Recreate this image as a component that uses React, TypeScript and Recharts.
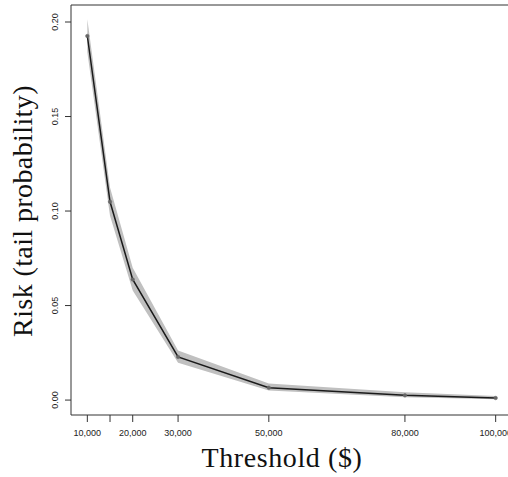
import React from "react";
import { ComposedChart, Area, Line, XAxis, YAxis, ReferenceLine, Label } from "recharts";

const thresholds = [10000, 15000, 20000, 30000, 50000, 80000, 100000];
const risk = [0.1926, 0.1049, 0.0638, 0.0228, 0.0065, 0.0025, 0.0011];
const lower = [0.1840, 0.0975, 0.0580, 0.0198, 0.0050, 0.0015, 0.0004];
const upper = [0.2015, 0.1125, 0.0700, 0.0262, 0.0088, 0.0042, 0.0022];

const xTicks = [10000, 15000, 20000, 30000, 50000, 80000, 100000];
const xTickLabels = ["10,000", "", "20,000", "30,000", "50,000", "80,000", "100,000"];
const yTicks = [0, 0.05, 0.1, 0.15, 0.2];
const yTickLabels = ["0.00", "0.05", "0.10", "0.15", "0.20"];

const data = thresholds.map((t, i) => ({
  t,
  risk: risk[i],
  band: [lower[i], upper[i]],
}));

const tickFont = "'Liberation Sans', Arial, sans-serif";
const titleFont = "'Liberation Serif', 'Times New Roman', serif";

const XTick = (props: any) => {
  const { x, y, payload } = props;
  const idx = xTicks.indexOf(payload.value);
  return (
    <text x={x} y={y} dy={11.5} textAnchor="middle" fontSize={9} fill="#222" fontFamily={tickFont}>
      {xTickLabels[idx]}
    </text>
  );
};

const YTick = (props: any) => {
  const { x, y, payload } = props;
  const idx = yTicks.indexOf(payload.value);
  return (
    <text x={x} y={y} textAnchor="middle" fontSize={9} fill="#222" fontFamily={tickFont} transform={`rotate(-90, ${x}, ${y})`}>
      {yTickLabels[idx]}
    </text>
  );
};

export default function App() {
  return (
    <div style={{ position: "absolute", left: 0, top: 0, width: 508, height: 477, overflow: "hidden", background: "#fff" }}>
      <ComposedChart width={520} height={477} data={data} margin={{ top: 5, right: 8, bottom: 0, left: 0 }}>
        <XAxis
          dataKey="t"
          type="number"
          domain={[6400, 103600]}
          ticks={xTicks}
          interval={0}
          allowDataOverflow
          height={62}
          tickSize={7}
          tickMargin={2}
          tick={<XTick />}
          axisLine={{ stroke: "#333", strokeWidth: 1 }}
          tickLine={{ stroke: "#333", strokeWidth: 1 }}
        >
          <Label
            content={() => (
              <text x={282} y={467} textAnchor="middle" fontSize={28} letterSpacing={0.6} fill="#111" fontFamily={titleFont}>
                Threshold ($)
              </text>
            )}
          />
        </XAxis>
        <YAxis
          type="number"
          domain={[-0.0079, 0.209]}
          ticks={yTicks}
          interval={0}
          allowDataOverflow
          width={71}
          tickSize={6}
          tickMargin={7}
          tick={<YTick />}
          axisLine={{ stroke: "#333", strokeWidth: 1 }}
          tickLine={{ stroke: "#333", strokeWidth: 1 }}
        >
          <Label
            content={() => (
              <text x={32} y={211} textAnchor="middle" fontSize={28} letterSpacing={0.4} fill="#111" fontFamily={titleFont} transform="rotate(-90, 32, 211)">
                Risk (tail probability)
              </text>
            )}
          />
        </YAxis>
        <ReferenceLine y={0.209} stroke="#333" strokeWidth={1} />
        <Area
          type="linear"
          dataKey="band"
          stroke="none"
          fill="#c0c0c0"
          fillOpacity={1}
          isAnimationActive={false}
          dot={false}
          activeDot={false}
        />
        <Line
          type="linear"
          dataKey="risk"
          stroke="#1a1a1a"
          strokeWidth={1.5}
          dot={{ r: 1.8, fill: "#666", stroke: "#666", strokeWidth: 0.5 }}
          activeDot={false}
          isAnimationActive={false}
        />
      </ComposedChart>
    </div>
  );
}
